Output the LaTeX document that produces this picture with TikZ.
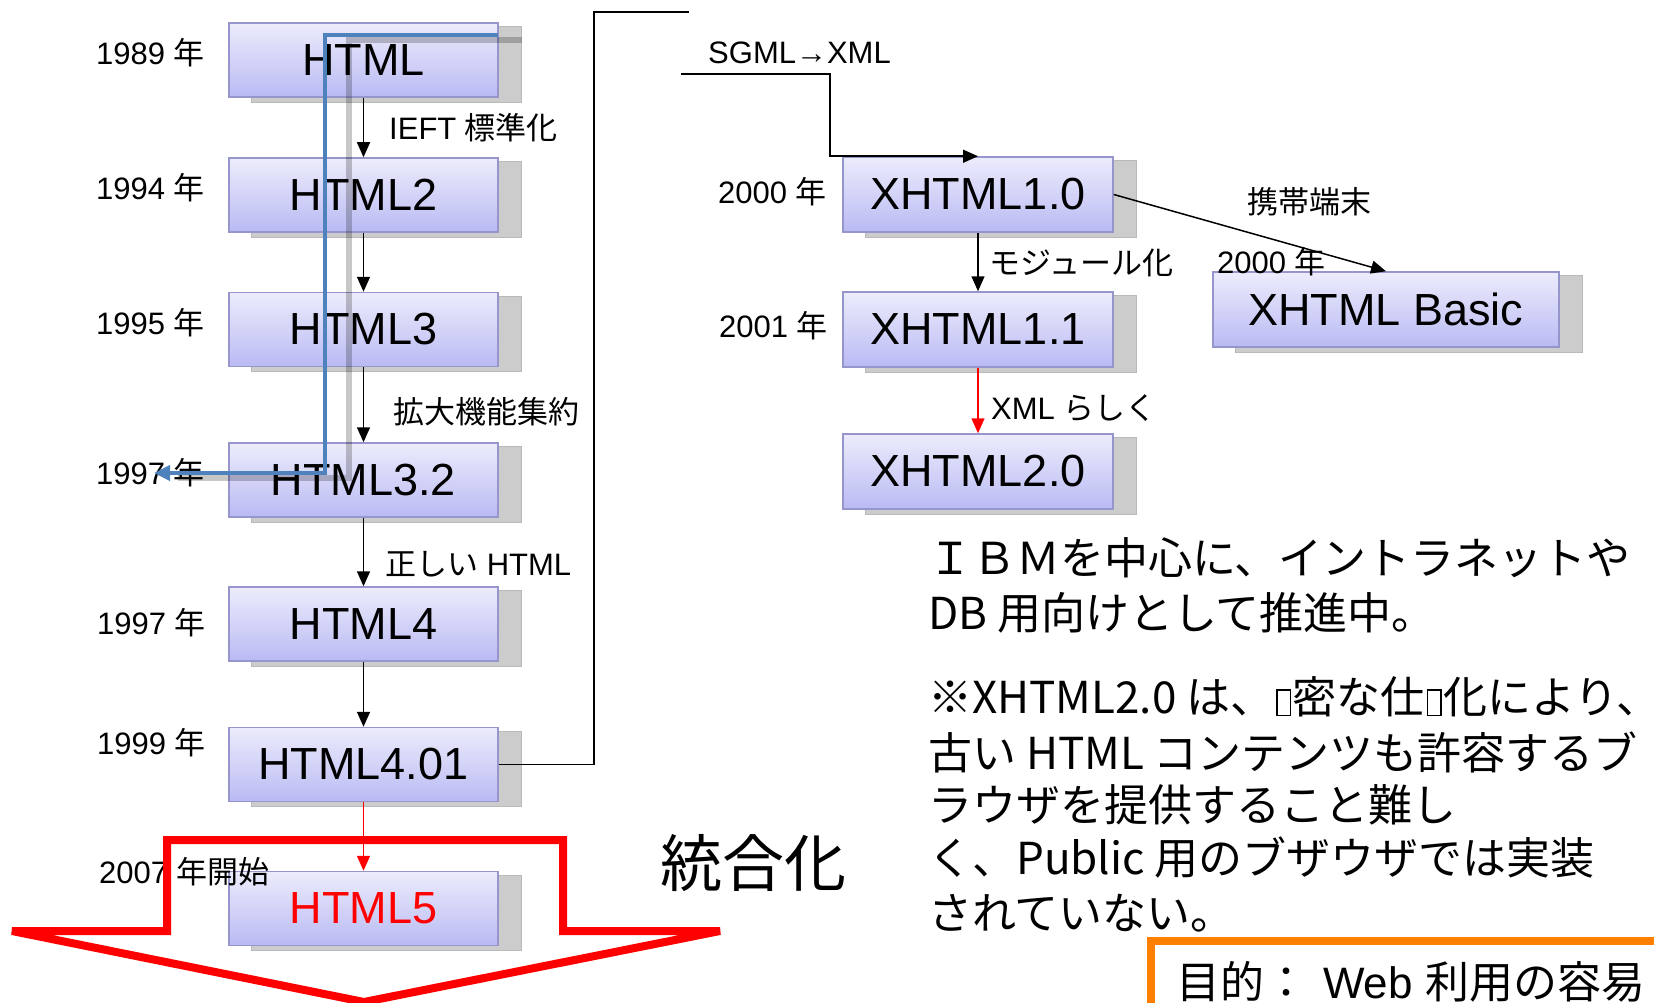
\documentclass[tikz,border=0pt]{standalone}
\usepackage{fontspec}
\setmainfont{Liberation Sans}
\newfontfamily\cjk{Noto Sans CJK JP}
\usetikzlibrary{arrows.meta,calc,backgrounds}
\definecolor{boxtop}{RGB}{236,236,252}
\definecolor{boxbot}{RGB}{186,186,244}
\definecolor{boxline}{RGB}{150,150,205}
\definecolor{shfill}{RGB}{204,204,204}
\definecolor{shline}{RGB}{185,185,185}
\definecolor{blueln}{RGB}{79,129,189}
\definecolor{orangeln}{RGB}{255,128,0}
\newcommand\tofubox{\hspace{2pt}\raisebox{-1pt}{\setlength\fboxsep{0pt}\setlength\fboxrule{1.3pt}\fbox{\rule{0pt}{24pt}\hspace{12pt}}}\hspace{2pt}}
\begin{document}
\begin{tikzpicture}[x=1pt,y=-1pt,
  vbox/.style={draw=boxline, line width=1.5pt, top color=boxtop, bottom color=boxbot,
    minimum width=269pt, minimum height=74pt, inner sep=0pt, font=\fontsize{45}{54}\selectfont},
  shbox/.style={fill=shfill, draw=shline, line width=1pt},
  lbl/.style={anchor=west, inner sep=0pt, font=\fontsize{31}{36}\selectfont},
  para/.style={anchor=west, inner sep=0pt, font=\cjk\fontsize{44}{54}\selectfont},
  conn/.style={line width=1.5pt, -{Triangle[length=15pt,width=13pt]}},
  redconn/.style={conn, red},
  plainln/.style={line width=1.6pt},
  blueline/.style={blueln, line width=4pt, -{Triangle[length=16pt,width=15pt]}},
  blueshadow/.style={black, opacity=0.22, line width=6pt},
  bigarrow/.style={red, line width=8pt},
  goalbox/.style={orangeln, line width=8pt}
  ]
\useasboundingbox (0,0) rectangle (1654,1003);

% boxes
\node[vbox] (h1) at (363.5,60) {HTML};
\node[vbox] (h2) at (363.5,195) {HTML2};
\node[vbox] (h3) at (363.5,329.5) {HTML3};
\node[vbox] (h32) at (363.5,480) {HTML3.2};
\node[vbox] (h4) at (363.5,624) {HTML4};
\node[vbox] (h401) at (363.5,764.5) {HTML4.01};
\node[vbox, text=red] (h5) at (363.5,908.5) {HTML5};
\node[vbox, minimum width=270pt, minimum height=75pt] (x10) at (978,194.5) {XHTML1.0};
\node[vbox, minimum width=270pt, minimum height=75pt] (x11) at (978,329.5) {XHTML1.1};
\node[vbox, minimum width=270pt, minimum height=75pt] (x20) at (978,471.5) {XHTML2.0};
\node[vbox, minimum width=346pt, minimum height=75pt] (xb) at (1386,309.5) {XHTML Basic};

\begin{scope}[on background layer]
  \fill[white] (0,0) rectangle (1654,1003);
  \foreach \n in {h1,h2,h3,h32,h4,h401,h5,x10,x11,x20,xb}
    \draw[shbox] ($(\n.south west)+(23,4.5)$) rectangle ($(\n.north east)+(23,4.5)$);
\end{scope}

% year labels
\node[lbl] (y1989) at (96,53) {1989 {\cjk 年}};
\node[lbl] (y1994) at (96,188) {1994 {\cjk 年}};
\node[lbl] (y1995) at (96,323) {1995 {\cjk 年}};
\node[lbl] (y1997a) at (96,473) {1997 {\cjk 年}};
\node[lbl] (y1997b) at (97,623) {1997 {\cjk 年}};
\node[lbl] (y1999) at (97,743) {1999 {\cjk 年}};
\node[lbl] (y2007) at (99,872) {2007 {\cjk 年開始}};
\node[lbl] (y2000) at (718,192) {2000 {\cjk 年}};
\node[lbl] (y2001) at (719,326) {2001 {\cjk 年}};
\node[lbl] (y2000b) at (1217,262) {2000 {\cjk 年}};

% edge labels
\node[lbl] (l1) at (389,128) {IEFT {\cjk 標準化}};
\node[lbl] (l2) at (393,412) {{\cjk 拡大機能集約}};
\node[lbl] (l3) at (385,564) {{\cjk 正しい} HTML};
\node[lbl] (l4) at (708,53) {SGML→XML};
\node[lbl] (l5) at (1247,202) {{\cjk 携帯端末}};
\node[lbl] (l6) at (989,263) {{\cjk モジュール化}};
\node[lbl] (l7) at (991,408) {XML {\cjk らしく}};

% connectors
\draw[conn] (h1) -- (h2);
\draw[conn] (h2) -- (h3);
\draw[conn] (h3) -- (h32);
\draw[conn] (h32) -- (h4);
\draw[conn] (h4) -- (h401);
\draw[redconn] (h401) -- (h5);
\draw[conn] (x10) -- (x11);
\draw[redconn] (x11) -- (x20);
\draw[conn] (x10.east) -- (xb.north);

\coordinate (c1) at (594,12);
\coordinate (c2) at (689,12);
\coordinate (c3) at (681,74);
\coordinate (c4) at (830,74);
\draw[plainln] (h401.east) -| (c1) -- (c2);
\draw[plainln, -{Triangle[length=15pt,width=13pt]}] (c3) -- (c4) |- (x10.north);

% blue elbow line with its shadow
\coordinate (bA) at (498,35);
\coordinate (bB) at (325,35);
\coordinate (bC) at (325,473);
\coordinate (bD) at (154,473);
\draw[blueshadow] ($(bA)+(24,5)$) -- ($(bB)+(24,5)$) -- ($(bC)+(24,5)$) -- ($(bD)+(24,5)$);
\draw[blueline] (bA) -- (bB) -- (bC) -- (bD);

% big red arrow
\draw[bigarrow] (167,840) -- (563,840) -- (563,931) -- (720,931) -- (364,1002) -- (12,931) -- (167,931) -- cycle;

\node[anchor=west, inner sep=0pt, font=\cjk\fontsize{62}{70}\selectfont] (togo) at (660,863) {統合化};

% paragraph
\node[para] (p1) at (928,558) {ＩＢＭを中心に、イントラネットや};
\node[para] (p2) at (928,613) {DB 用向けとして推進中。};
\node[para] (p3) at (928,697) {※XHTML2.0 は、\tofubox 密な仕\tofubox 化により、};
\node[para] (p4) at (928,752) {古い HTML コンテンツも許容するブ};
\node[para] (p5) at (928,805) {ラウザを提供すること難し};
\node[para] (p6) at (928,858) {く、Public 用のブザウザでは実装};
\node[para] (p7) at (928,913) {されていない。};

% goal box
\draw[goalbox] (1151,941) rectangle (1720,1080);
\node[anchor=west, inner sep=0pt, font=\fontsize{44}{54}\selectfont] (goal) at (1176,982) {{\cjk 目的：}\hspace{15pt}Web {\cjk 利用の容易}};
\end{tikzpicture}
\end{document}
